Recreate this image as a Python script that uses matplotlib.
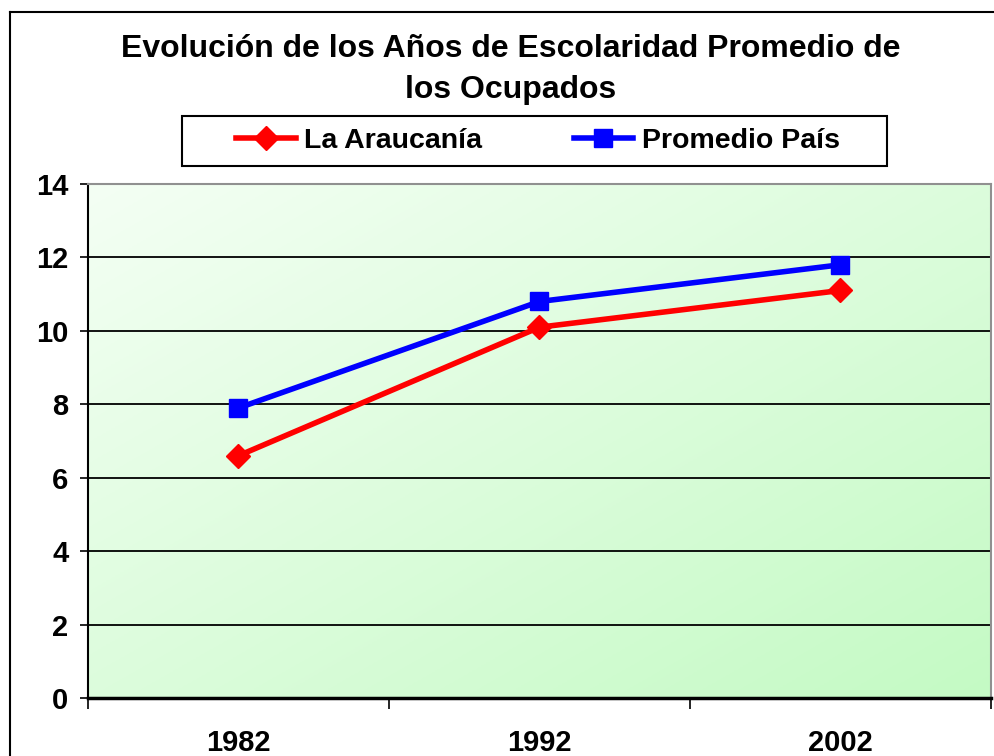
import numpy as np
import matplotlib
matplotlib.use('Agg')
import matplotlib.pyplot as plt
from matplotlib.lines import Line2D
from matplotlib.patches import Rectangle

plt.rcParams['font.family'] = ['Liberation Sans', 'DejaVu Sans']
plt.rcParams['font.weight'] = 'bold'

years = ['1982', '1992', '2002']
araucania = [6.6, 10.1, 11.1]
promedio_pais = [7.9, 10.8, 11.8]
yticks = [0, 2, 4, 6, 8, 10, 12, 14]

fig = plt.figure(figsize=(9.95, 7.56), dpi=100)
ax = fig.add_axes([88 / 995, 1 - 698 / 756, (991 - 88) / 995, (698 - 184) / 756])

# gradient background of the plot area (white top-left -> green bottom-right)
xx, yy = np.meshgrid(np.linspace(0, 1, 200), np.linspace(0, 1, 200))
t = (xx + yy) / 2
c0 = np.array([244, 255, 244]) / 255
c1 = np.array([196, 250, 196]) / 255
img = c0[None, None, :] * (1 - t[..., None]) + c1[None, None, :] * t[..., None]
ax.imshow(img, extent=[0, 1, 0, 1], transform=ax.transAxes, aspect='auto',
          origin='upper', zorder=0)

x = np.arange(len(years))
ax.plot(x, araucania, color='#ff0000', lw=4, marker='D', ms=12, zorder=3,
        label='La Araucanía')
ax.plot(x, promedio_pais, color='#0000ff', lw=4, marker='s', ms=13, zorder=3,
        label='Promedio País')

ax.set_xlim(-0.5, 2.5)
ax.set_ylim(0, 14)
ax.set_yticks(yticks)
ax.set_yticklabels([str(v) for v in yticks], fontsize=21, fontweight='bold')
ax.set_xticks(x)
ax.set_xticklabels(years, fontsize=21, fontweight='bold')
ax.set_xticks([-0.5, 0.5, 1.5, 2.5], minor=True)
ax.tick_params(axis='x', which='major', length=0, pad=22)
ax.tick_params(axis='x', which='minor', length=8, width=1.2, direction='out')
ax.tick_params(axis='y', length=6, width=1.2, direction='out', pad=8)

for v in yticks[1:]:
    ax.axhline(v, color='black', lw=1.3, zorder=1)

ax.spines['left'].set_linewidth(1.5)
ax.spines['bottom'].set_linewidth(2.5)
ax.spines['top'].set_color('#909090')
ax.spines['right'].set_color('#909090')
ax.spines['top'].set_linewidth(1.5)
ax.spines['right'].set_linewidth(1.5)

fig.text(511 / 995, 1 - 49 / 756, 'Evolución de los Años de Escolaridad Promedio de',
         ha='center', va='center', fontsize=23, fontweight='bold')
fig.text(511 / 995, 1 - 90 / 756, 'los Ocupados',
         ha='center', va='center', fontsize=23, fontweight='bold')

# legend box
fig.patches.append(Rectangle((182 / 995, 1 - 166 / 756), (887 - 182) / 995, 50 / 756,
                             transform=fig.transFigure, fill=False, edgecolor='black',
                             lw=1.5))
handles = [Line2D([], [], color='#ff0000', lw=4, marker='D', ms=12),
           Line2D([], [], color='#0000ff', lw=4, marker='s', ms=13)]
fig.legend(handles, ['La Araucanía', 'Promedio País'], loc='center',
           bbox_to_anchor=(538 / 995, 1 - 141 / 756), ncol=2, frameon=False,
           prop={'size': 20.5, 'weight': 'bold'}, handlelength=2.1, columnspacing=3.2,
           handletextpad=0.3)

# outer chart border (left and top edges visible)
fig.add_artist(Line2D([10 / 995, 10 / 995], [0, 1 - 12 / 756], transform=fig.transFigure,
                      color='black', lw=1.5))
fig.add_artist(Line2D([10 / 995, 1], [1 - 12 / 756, 1 - 12 / 756], transform=fig.transFigure,
                      color='black', lw=1.5))

fig.savefig('out.png', dpi=100)
